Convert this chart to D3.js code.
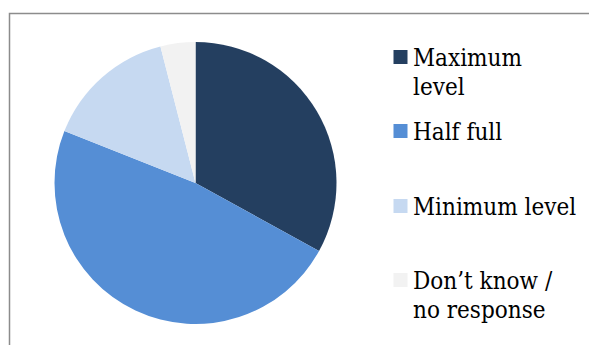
<!DOCTYPE html>
<html>
<head>
<meta charset="utf-8">
<script src="https://cdn.jsdelivr.net/npm/d3@7"></script>
<style>
  html, body { margin: 0; padding: 0; background: #fff; }
  svg { display: block; }
</style>
</head>
<body>
<svg id="chart" width="589" height="345"></svg>
<script>
// Water-level survey responses (percent of respondents)
const categories = ["Maximum level", "Half full", "Minimum level", "Don’t know / no response"];
const values = [33, 48, 15, 4];
const legendLines = [["Maximum", "level"], ["Half full"], ["Minimum level"], ["Don’t know /", "no response"]];
const colors = ["#243f60", "#558ed5", "#c6d9f1", "#f2f2f2"];

const svg = d3.select("#chart");

// chart frame
svg.append("rect")
  .attr("x", 9.5).attr("y", 13.5)
  .attr("width", 620).attr("height", 360)
  .attr("fill", "#fff")
  .attr("stroke", "#8c8c8c")
  .attr("stroke-width", 1.5);

const cx = 195.5, cy = 183, r = 141;

const pie = d3.pie().sort(null).value(d => d)(values);
const arc = d3.arc().innerRadius(0).outerRadius(r);
const color = d3.scaleOrdinal().domain(categories).range(colors);

svg.append("g")
  .attr("transform", `translate(${cx},${cy})`)
  .selectAll("path")
  .data(pie)
  .join("path")
  .attr("d", arc)
  .attr("fill", (d, i) => color(categories[i]));

// legend: colour swatch plus one or two lines of label text
const legendY = [57, 131, 206, 280];
const lg = svg.append("g");

categories.forEach((c, i) => {
  const g = lg.append("g").attr("transform", `translate(0,${legendY[i]})`);
  g.append("rect")
    .attr("x", 393.5).attr("y", -7)
    .attr("width", 14).attr("height", 14)
    .attr("fill", color(c));
  const t = g.append("text").attr("x", 413).attr("y", 8.5)
    .style("font-family", "'DejaVu Serif', serif")
    .style("font-stretch", "condensed")
    .style("font-size", "24px")
    .style("fill", "#000");
  legendLines[i].forEach((ln, j) => {
    t.append("tspan").attr("x", 413).attr("dy", j === 0 ? 0 : 29).text(ln);
  });
});
</script>
</body>
</html>
